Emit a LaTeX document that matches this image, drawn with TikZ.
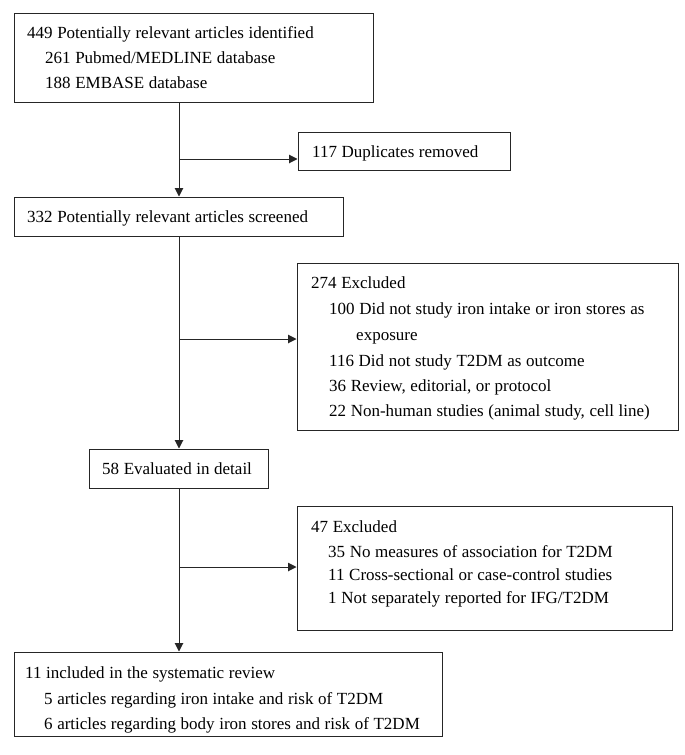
\documentclass[tikz,border=0pt]{standalone}
\usepackage{fontspec}
\setmainfont{Liberation Serif}
\usetikzlibrary{arrows.meta}
\newcommand{\flowfont}{\fontsize{17}{20}\selectfont\spaceskip=4.6pt plus 1pt minus 1pt\relax}
\begin{document}
\begin{tikzpicture}[x=1pt,y=-1pt,
  box/.style={draw=black!85, line width=1pt, inner sep=0pt, rectangle},
  txt/.style={anchor=base west, inner sep=0pt, font=\flowfont},
  conn/.style={draw=black!85, line width=1pt, -{Triangle[length=8.5pt,width=8.5pt]}},
  plain/.style={draw=black!85, line width=1pt}]
\useasboundingbox[fill=white] (0,0) rectangle (685,755);
% boxes
\node[box, minimum width=359pt, minimum height=89pt] (b1) at (193.5,57.5) {};
\node[box, minimum width=212pt, minimum height=38pt] (b2) at (404,151) {};
\node[box, minimum width=329pt, minimum height=39pt] (b3) at (178.5,216.5) {};
\node[box, minimum width=381pt, minimum height=167pt] (b4) at (487.5,346.5) {};
\node[box, minimum width=179pt, minimum height=39pt] (b5) at (178.5,468.5) {};
\node[box, minimum width=375pt, minimum height=124pt] (b6) at (484.5,568) {};
\node[box, minimum width=428pt, minimum height=84pt] (b7) at (228,694) {};
% texts
\node[txt] (t11) at (27,38) {449 Potentially relevant articles identified};
\node[txt] (t12) at (45,63) {261 Pubmed/MEDLINE database};
\node[txt] (t13) at (45,88) {188 EMBASE database};
\node[txt] (t21) at (312,157) {117 Duplicates removed};
\node[txt] (t31) at (27,222) {332 Potentially relevant articles screened};
\node[txt] (t41) at (311,288) {274 Excluded};
\node[txt] (t42) at (329,314) {100 Did not study iron intake or iron stores as};
\node[txt] (t43) at (356,340) {exposure};
\node[txt] (t44) at (329,366) {116 Did not study T2DM as outcome};
\node[txt] (t45) at (329,391) {36 Review, editorial, or protocol};
\node[txt] (t46) at (329,416) {22 Non-human studies (animal study, cell line)};
\node[txt] (t51) at (102,474) {58 Evaluated in detail};
\node[txt] (t61) at (311,532) {47 Excluded};
\node[txt] (t62) at (328,557) {35 No measures of association for T2DM};
\node[txt] (t63) at (328,580) {11 Cross-sectional or case-control studies};
\node[txt] (t64) at (328,603) {1 Not separately reported for IFG/T2DM};
\node[txt] (t71) at (25,678) {11 included in the systematic review};
\node[txt] (t72) at (44,704) {5 articles regarding iron intake and risk of T2DM};
\node[txt] (t73) at (44,729) {6 articles regarding body iron stores and risk of T2DM};
% connectors
\coordinate (m1) at (179,159);
\coordinate (m2) at (179,339);
\coordinate (m3) at (179,567);
\draw[conn] (m1 |- b1.south) -- (m1 |- b3.north);
\draw[conn] (m1) -- (b2.west |- m1);
\draw[conn] (m2 |- b3.south) -- (m2 |- b5.north);
\draw[conn] (m2) -- (b4.west |- m2);
\draw[conn] (m3 |- b5.south) -- (m3 |- b7.north);
\draw[conn] (m3) -- (b6.west |- m3);
\end{tikzpicture}
\end{document}
